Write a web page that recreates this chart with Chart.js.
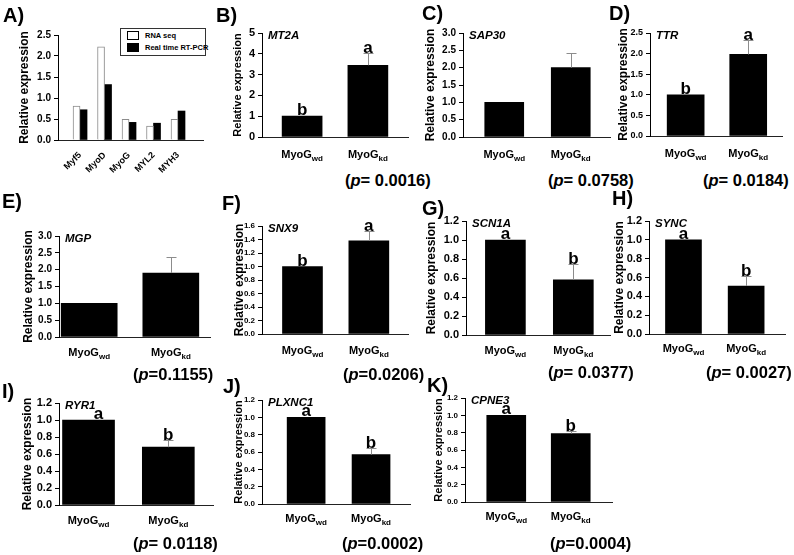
<!DOCTYPE html>
<html lang="en">
<head>
<meta charset="UTF-8">
<title>MyoG knockdown - relative expression</title>
<script src="https://cdn.jsdelivr.net/npm/chart.js"></script>
<style>
  body { margin: 0; background: #fff; }
  #fig { position: relative; width: 794px; height: 555px; overflow: hidden; font-family: "Liberation Sans", Arial, sans-serif; color: #000; }
  .box { position: absolute; }
  .tag { position: absolute; font-weight: bold; font-size: 20px; line-height: 20px; }
  .pv { position: absolute; font-weight: bold; font-size: 16.5px; line-height: 16px; white-space: nowrap; }
  #legA { position: absolute; left: 120px; top: 28px; width: 84px; height: 26px; border: 1px solid #333; background: #fff; font-weight: bold; font-size: 7.5px; }
  #legA div { position: absolute; left: 6px; height: 10px; line-height: 10px; white-space: nowrap; }
  #legA span { display: inline-block; width: 12px; height: 9px; box-sizing: border-box; border: 1px solid #000; vertical-align: top; margin-right: 6px; }
</style>
</head>
<body>
<div id="fig">
  <div id="legA">
    <div style="top:2px"><span style="background:#fff"></span>RNA seq</div>
    <div style="top:14px"><span style="background:#000"></span>Real time RT-PCR</div>
  </div>
</div>
<script>
// panel A: RNA seq vs real time RT-PCR
const genesA = ['Myf5', 'MyoD', 'MyoG', 'MYL2', 'MYH3'];
const rnaSeq = [0.81, 2.22, 0.49, 0.33, 0.49];
const rtPcr = [0.72, 1.32, 0.42, 0.40, 0.69];

// panels B-K: MyoG wd vs kd
const groupBase = 'MyoG';
const groupSub = ['wd', 'kd'];
const genes = ['MT2A', 'SAP30', 'TTR', 'MGP', 'SNX9', 'SCN1A', 'SYNC', 'RYR1', 'PLXNC1', 'CPNE3'];
const wdMean = [1, 1, 1, 1, 1, 1, 1, 1, 1, 1];
const kdMean = [3.45, 2.0, 1.98, 1.9, 1.38, 0.58, 0.51, 0.68, 0.57, 0.79];
const kdErr = [0.6, 0.42, 0.35, 0.48, 0.14, 0.17, 0.11, 0.08, 0.08, 0.03];
const wdLetter = ['b', '', 'b', '', 'b', 'a', 'a', 'a', 'a', 'a'];
const kdLetter = ['a', '', 'a', '', 'a', 'b', 'b', 'b', 'b', 'b'];
const pText = ['(p= 0.0016)', '(p= 0.0758)', '(p= 0.0184)', '(p=0.1155)', '(p=0.0206)',
               '(p= 0.0377)', '(p= 0.0027)', '(p= 0.0118)', '(p=0.0002)', '(p=0.0004)'];
const yMax = [5, 3, 2.5, 3, 1.6, 1.2, 1.2, 1.2, 1.2, 1.2];
const yStep = [1, 0.5, 0.5, 0.5, 0.2, 0.2, 0.2, 0.2, 0.2, 0.2];

const FONT = '"Liberation Sans", Arial, sans-serif';
Chart.defaults.font.family = FONT;
Chart.defaults.color = '#000';
Chart.defaults.animation = false;

// where each panel sits on the page
const frameA = { tag: 'A', x0: 58, x1: 203, y0: 35, y1: 140, yw: 45, xr: [-0.9, 5.02], tick: 10, title: 12, tagL: 3, tagT: 4.5 };
const frames = [
  { tag: 'B', x0: 262, x1: 408, y0: 33, y1: 137, yw: 35, xr: [-0.61, 1.61], tick: 11, title: 11, bar: 40, lab: 21, tagL: 216, tagT: 4.5, pL: 345, pT: 172 },
  { tag: 'C', x0: 463, x1: 610, y0: 33, y1: 137, yw: 44, xr: [-0.62, 1.59], tick: 10, title: 12, bar: 39, lab: 21, tagL: 422, tagT: 2.5, pL: 548, pT: 172 },
  { tag: 'D', x0: 650, x1: 782, y0: 33, y1: 136, yw: 38, xr: [-0.57, 1.54], tick: 9, title: 12, bar: 37, lab: 21, tagL: 609, tagT: 2.5, pL: 703, pT: 172 },
  { tag: 'E', x0: 59, x1: 210, y0: 236, y1: 337, yw: 42, xr: [-0.37, 1.48], tick: 10, title: 12, bar: 56, lab: 19, tagL: 2, tagT: 190.5, pL: 133, pT: 366 },
  { tag: 'F', x0: 262, x1: 408, y0: 226, y1: 334, yw: 34, xr: [-0.61, 1.59], tick: 8, title: 12, bar: 40, lab: 20, tagL: 222, tagT: 192.5, pL: 343, pT: 366 },
  { tag: 'G', x0: 466, x1: 610, y0: 221, y1: 335, yw: 46, xr: [-0.58, 1.54], tick: 11, title: 12, bar: 40, lab: 19, tagL: 422, tagT: 197.5, pL: 548, pT: 364 },
  { tag: 'H', x0: 649, x1: 785, y0: 221, y1: 334, yw: 41, xr: [-0.55, 1.62], tick: 11, title: 12, bar: 36, lab: 18, tagL: 612, tagT: 187.5, pL: 706, pT: 364 },
  { tag: 'I', x0: 59, x1: 213, y0: 403, y1: 505, yw: 43, xr: [-0.37, 1.56], tick: 11, title: 12, bar: 52, lab: 19, tagL: 2, tagT: 380.5, pL: 133, pT: 535, aDx: 10 },
  { tag: 'J', x0: 262, x1: 410, y0: 400, y1: 504, yw: 34, xr: [-0.68, 1.6], tick: 8, title: 11, bar: 38, lab: 18, tagL: 223, tagT: 375.5, pL: 342, pT: 535 },
  { tag: 'K', x0: 465, x1: 612, y0: 398, y1: 502, yw: 37, xr: [-0.64, 1.64], tick: 8, title: 11, bar: 39, lab: 18, tagL: 427, tagT: 374.5, pL: 550, pT: 535 }
];

const fig = document.getElementById('fig');

function addText(cls, html, left, top) {
  const d = document.createElement('div');
  d.className = cls;
  d.innerHTML = html;
  d.style.left = left + 'px';
  d.style.top = top + 'px';
  fig.appendChild(d);
}

function makeCanvas(f, xh) {
  const left = f.x0 - f.yw, top = f.y0 - 10;
  const div = document.createElement('div');
  div.className = 'box';
  div.style.left = left + 'px';
  div.style.top = top + 'px';
  div.style.width = (f.x1 + 2 - left) + 'px';
  div.style.height = (f.y1 + xh - top) + 'px';
  const cv = document.createElement('canvas');
  div.appendChild(cv);
  fig.appendChild(div);
  return cv;
}

function yAxis(f, max, step) {
  return {
    min: 0, max: max,
    ticks: {
      stepSize: step, padding: 3, color: '#000', autoSkip: false,
      font: { size: f.tick, weight: 'bold' },
      callback: v => step >= 1 ? String(v) : v.toFixed(1)
    },
    grid: { drawOnChartArea: false, drawTicks: true, tickLength: 4, color: '#000', tickColor: '#000' },
    border: { color: '#000', width: 1 },
    title: { display: true, text: 'Relative expression', color: '#000', font: { size: f.title, weight: 'bold' }, padding: { top: 4, bottom: 0 } },
    afterFit: s => { s.width = f.yw; }
  };
}

const baseOpts = {
  responsive: true,
  maintainAspectRatio: false,
  layout: { padding: { top: 10, right: 2, bottom: 0, left: 0 } },
  plugins: { legend: { display: false }, tooltip: { enabled: false } }
};

// panel A
new Chart(makeCanvas(frameA, 40), {
  type: 'bar',
  data: {
    datasets: [
      { data: rnaSeq.map((v, i) => ({ x: i, y: v })), backgroundColor: '#fff', borderColor: '#8c8c8c', borderWidth: 1, barThickness: 7 },
      { data: rtPcr.map((v, i) => ({ x: i, y: v })), backgroundColor: '#000', barThickness: 7 }
    ]
  },
  options: Object.assign({}, baseOpts, {
    scales: {
      x: {
        type: 'linear', offset: false, min: frameA.xr[0], max: frameA.xr[1],
        afterBuildTicks: s => { s.ticks = genesA.map((g, i) => ({ value: i })); },
        ticks: { autoSkip: false, minRotation: 45, maxRotation: 45, padding: 2, font: { size: 9, weight: 'bold' }, callback: v => genesA[v] },
        grid: { display: false },
        border: { color: '#222', width: 1 },
        afterFit: s => { s.height = 40; }
      },
      y: yAxis(frameA, 2.5, 0.5)
    }
  })
});
addText('tag', 'A)', frameA.tagL, frameA.tagT);

// error bars, letters, group labels and gene name
const marks = {
  id: 'marks',
  afterDatasetsDraw(chart, args, opts) {
    const k = opts.k, f = frames[k];
    const ctx = chart.ctx, y = chart.scales.y, area = chart.chartArea;
    const bars = chart.getDatasetMeta(0).data;
    const vals = [wdMean[k], kdMean[k]];
    const errs = [0, kdErr[k]];
    const lets = [wdLetter[k], kdLetter[k]];
    ctx.save();
    bars.forEach((bar, i) => {
      const cx = Math.round(bar.x) + 0.5;
      let top = y.getPixelForValue(vals[i]);
      if (errs[i]) {
        const ey = Math.round(y.getPixelForValue(vals[i] + errs[i])) + 0.5;
        ctx.strokeStyle = '#8c8c8c';
        ctx.lineWidth = 1;
        ctx.beginPath();
        ctx.moveTo(cx, top);
        ctx.lineTo(cx, ey);
        ctx.moveTo(cx - 5, ey);
        ctx.lineTo(cx + 5, ey);
        ctx.stroke();
        top = ey;
      }
      ctx.fillStyle = '#000';
      ctx.textBaseline = 'alphabetic';
      if (lets[i]) {
        ctx.font = 'bold 17px ' + FONT;
        ctx.textAlign = 'center';
        ctx.fillText(lets[i], bar.x + (i === 0 && f.aDx ? f.aDx : 0), top - 1);
      }
      ctx.textAlign = 'left';
      ctx.font = 'bold 11px ' + FONT;
      const w1 = ctx.measureText(groupBase).width;
      ctx.font = 'bold 8px ' + FONT;
      const w2 = ctx.measureText(groupSub[i]).width;
      const lx = bar.x - (w1 + w2) / 2, base = area.bottom + f.lab;
      ctx.font = 'bold 11px ' + FONT;
      ctx.fillText(groupBase, lx, base);
      ctx.font = 'bold 8px ' + FONT;
      ctx.fillText(groupSub[i], lx + w1, base + 3);
    });
    ctx.font = 'italic bold 11.5px ' + FONT;
    ctx.textAlign = 'left';
    ctx.fillText(genes[k], area.left + 6, area.top + 6);
    ctx.restore();
  }
};

frames.forEach((f, k) => {
  new Chart(makeCanvas(f, 30), {
    type: 'bar',
    data: {
      datasets: [{
        data: [{ x: 0, y: wdMean[k] }, { x: 1, y: kdMean[k] }],
        backgroundColor: '#000',
        barThickness: f.bar
      }]
    },
    options: Object.assign({}, baseOpts, {
      plugins: { legend: { display: false }, tooltip: { enabled: false }, marks: { k: k } },
      scales: {
        x: {
          type: 'linear', offset: false, min: f.xr[0], max: f.xr[1],
          ticks: { display: false },
          grid: { display: false },
          border: { color: '#222', width: 1 },
          afterFit: s => { s.height = 30; }
        },
        y: yAxis(f, yMax[k], yStep[k])
      }
    }),
    plugins: [marks]
  });
  addText('tag', f.tag + ')', f.tagL, f.tagT);
  addText('pv', pText[k].replace('p', '<i>p</i>'), f.pL, f.pT);
});
</script>
</body>
</html>
